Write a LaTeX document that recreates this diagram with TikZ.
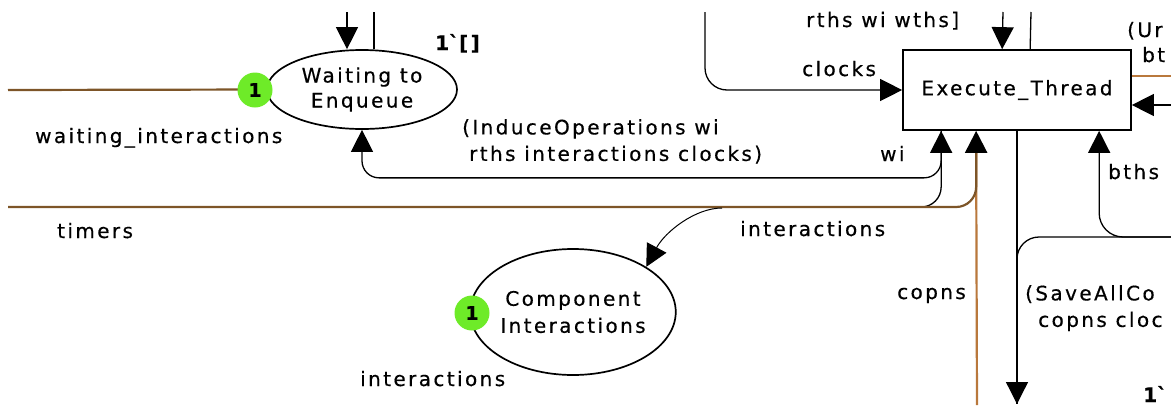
\documentclass[tikz,border=0pt]{standalone}
\usepackage{fontspec}
\setmainfont{DejaVu Sans}[LetterSpace=12,FakeBold=0.5]
\usetikzlibrary{arrows.meta,shapes.geometric}
\definecolor{cpnbrown}{RGB}{125,85,40}
\definecolor{cpnorange}{RGB}{185,120,60}
\definecolor{tokgreen}{RGB}{110,235,40}
\begin{document}
\begin{tikzpicture}[x=1pt,y=-1pt,
  font=\fontsize{20}{25}\selectfont,
  tri/.tip={Triangle[length=22pt,width=22pt,color=black]},
  blk/.style={draw=black, line width=1.3pt},
  brn/.style={draw=cpnbrown, line width=2.2pt},
  org/.style={draw=cpnorange, line width=2.2pt},
  place/.style={ellipse, draw, line width=1.7pt, inner sep=0pt, align=center},
  trans/.style={rectangle, draw, line width=1.7pt, minimum width=228pt, minimum height=80pt, inner sep=0pt},
  token/.style={circle, fill=tokgreen, minimum size=35pt, inner sep=0pt, font=\fontsize{19}{19}\selectfont\bfseries},
  lbl/.style={anchor=base west, inner sep=0pt},
  mlbl/.style={anchor=north west, inner sep=0pt, align=left, font=\fontsize{20}{26.5}\selectfont}]
\useasboundingbox (0,0) rectangle (1171,405);

% places and transition
\node[place, minimum width=190pt, minimum height=79pt] (wait) at (362,89.5) {Waiting to\\Enqueue};
\node[place, minimum width=178pt, minimum height=126pt, font=\fontsize{20}{27}\selectfont] (comp) at (573,312) {Component\\Interactions};
\node[trans] (exec) at (1017,90) {Execute\_Thread};

% free ends
\coordinate (wl) at (8,90);
\coordinate (tl) at (8,207);
\coordinate (wt1) at (347,12);
\coordinate (wt2) at (374,12);
\coordinate (ck) at (705,12);
\coordinate (rt) at (1003,12);
\coordinate (rt2) at (1031,12);
\coordinate (cb) at (977,405);
\coordinate (w2s) at (895,207);
\coordinate (ia) at (722,208);
\coordinate (r1) at (1171,76);
\coordinate (r2) at (1171,105);
\coordinate (r3) at (1171,237);
\coordinate (sb) at (1017,404);

% connectors
\draw[brn] (wl) -- (wait.west);
\draw[blk,-tri] (wt1) -- (wt1 |- wait.north);
\draw[blk] (wt2) -- (wt2 |- wait.north);
\draw[org] (cb) -- ([xshift=74pt,yshift=-22pt]exec.south west);
\draw[blk, rounded corners=20pt] (w2s) -| ([xshift=39pt]exec.south west);
\draw[brn, -tri, rounded corners=20pt] (tl) -| ([xshift=74pt]exec.south west);
\draw[blk, tri-tri, rounded corners=17pt] ([xshift=39pt]exec.south west) -- ++(0,47) -| (wait.south);
\draw[blk, line width=1pt, -tri] (ia) .. controls (695,208) and (665,232) .. (comp.north east);
\draw[blk, -tri, rounded corners=22pt] (ck) |- (exec.west);
\draw[blk, -tri] (rt) -- ([xshift=100pt]exec.north west);
\draw[blk] (rt2) -- ([xshift=128pt]exec.north west);
\draw[org] (r1) -- (r1 -| exec.east);
\draw[blk, -tri] (r2) -- (r2 -| exec.east);
\draw[blk, -tri, rounded corners=24pt] (r3) -| ([xshift=197pt]exec.south west);
\draw[blk, -tri, rounded corners=22pt] (r3) -| (sb);
\draw[blk] (exec.south) -- (sb);

% tokens
\node[token] (tok1) at (255,90) {1};
\node[token] (tok2) at (472,313) {1};

% inscriptions
\node[lbl] (l1) at (806,27) {rths wi wths]};
\node[lbl] (l2) at (802,76) {clocks};
\node[lbl, font=\fontsize{20}{25}\selectfont\bfseries] (l3) at (435,50) {1\textasciigrave[]};
\node[lbl] (l4) at (35,143) {waiting\_interactions};
\node[mlbl] (l5) at (462,119) {(InduceOperations wi\\\hspace*{7pt}rths interactions clocks)};
\node[lbl] (l6) at (880,161) {wi};
\node[lbl] (l7) at (740,236) {interactions};
\node[lbl] (l8) at (57,238) {timers};
\node[lbl] (l9) at (360,386) {interactions};
\node[lbl] (l10) at (897,299) {copns};
\node[mlbl] (l11) at (1025,285) {(SaveAllCo\\\hspace*{13pt}copns cloc};
\node[lbl] (l12) at (1108,179) {bths};
\node[lbl] (l13) at (1127,37) {(Ur};
\node[lbl] (l14) at (1142,62) {bt};
\node[lbl, font=\fontsize{20}{25}\selectfont\bfseries] (l15) at (1143,402) {1\textasciigrave};
\end{tikzpicture}
\end{document}
